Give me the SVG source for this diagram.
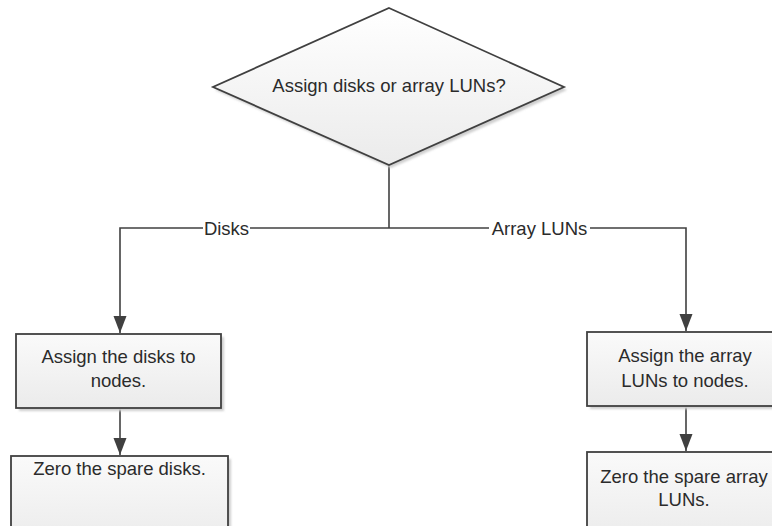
<svg xmlns="http://www.w3.org/2000/svg" width="772" height="526" viewBox="0 0 772 526">
  <defs>
    <linearGradient id="fillDecision" x1="0" y1="0" x2="0" y2="1">
      <stop offset="0" stop-color="#ffffff"/>
      <stop offset="1" stop-color="#ebebeb"/>
    </linearGradient>
    <linearGradient id="fillStep" x1="0" y1="0" x2="0" y2="1">
      <stop offset="0" stop-color="#fafafa"/>
      <stop offset="1" stop-color="#ebebeb"/>
    </linearGradient>
    <filter id="soft" x="-10%" y="-10%" width="120%" height="120%">
      <feGaussianBlur stdDeviation="1.2"/>
    </filter>
    <marker id="head" markerUnits="userSpaceOnUse" markerWidth="18" markerHeight="14" refX="17" refY="6.5" orient="auto">
      <path d="M0,0 L17,6.5 L0,13 Z" fill="#404040"/>
    </marker>
  </defs>
  <style>
    .shape { stroke: #404040; stroke-width: 1.8; }
    .decision { fill: url(#fillDecision); }
    .step { fill: url(#fillStep); }
    .shadow { fill: #cfcfcf; filter: url(#soft); }
    .wire { fill: none; stroke: #404040; stroke-width: 1.6; }
    .txt { font-family: "Liberation Sans", Arial, sans-serif; font-size: 18.5px; fill: #2b2b2b; text-anchor: middle; }
  </style>

  <rect width="772" height="526" fill="#ffffff"/>

  <!-- connectors -->
  <g id="connectors">
    <polyline class="wire" points="389,165 389,228"/>
    <polyline class="wire" points="203,228 120,228 120,333" marker-end="url(#head)"/>
    <line class="wire" x1="250" y1="228" x2="489" y2="228"/>
    <polyline class="wire" points="590,228 686,228 686,331" marker-end="url(#head)"/>
    <line class="wire" x1="120" y1="408" x2="120" y2="455" marker-end="url(#head)"/>
    <line class="wire" x1="686" y1="406" x2="686" y2="451" marker-end="url(#head)"/>
    <text class="txt" x="226.5" y="234.5">Disks</text>
    <text class="txt" x="539.5" y="234.5">Array LUNs</text>
  </g>

  <!-- decision -->
  <g id="decision">
    <polygon class="shadow" points="391,11 567,90 391,168 215,90"/>
    <polygon class="shape decision" points="389,8 564,87 389,165 213,87"/>
    <text class="txt" x="389" y="91.5">Assign disks or array LUNs?</text>
  </g>

  <!-- disks branch -->
  <g id="assign-disks">
    <rect class="shadow" x="19" y="337" width="205" height="74"/>
    <rect class="shape step" x="16" y="334" width="205" height="74"/>
    <text class="txt" x="118.5" y="363">Assign the disks to</text>
    <text class="txt" x="118.5" y="387">nodes.</text>
  </g>

  <g id="zero-disks">
    <rect class="shadow" x="14" y="459" width="217" height="90"/>
    <rect class="shape step" x="11" y="456" width="217" height="90"/>
    <text class="txt" x="119.5" y="474.5">Zero the spare disks.</text>
  </g>

  <!-- array LUNs branch -->
  <g id="assign-luns">
    <rect class="shadow" x="590" y="335" width="198" height="74"/>
    <rect class="shape step" x="587" y="332" width="198" height="74"/>
    <text class="txt" x="685" y="362">Assign the array</text>
    <text class="txt" x="685" y="386.5">LUNs to nodes.</text>
  </g>

  <g id="zero-luns">
    <rect class="shadow" x="590" y="455" width="198" height="90"/>
    <rect class="shape step" x="587" y="452" width="198" height="90"/>
    <text class="txt" x="684" y="483">Zero the spare array</text>
    <text class="txt" x="684" y="506">LUNs.</text>
  </g>
</svg>
